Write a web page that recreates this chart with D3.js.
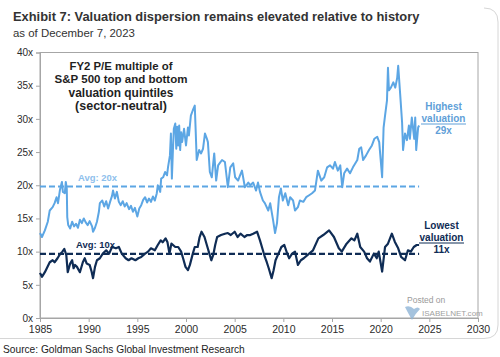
<!DOCTYPE html>
<html><head><meta charset="utf-8">
<script src="https://cdn.jsdelivr.net/npm/d3@7"></script>
<style>body{margin:0;background:#fff;}svg{display:block;font-family:"Liberation Sans",Arial,sans-serif;}</style>
</head><body>
<svg id="c" width="500" height="357"></svg>
<script>
const highYears = [1985.0,1985.2,1985.5,1985.8,1986.0,1986.3,1986.5,1986.7,1986.85,1987.05,1987.25,1987.35,1987.55,1987.65,1987.75,1987.8,1987.9,1988.1,1988.3,1988.5,1988.7,1988.9,1989.1,1989.3,1989.5,1989.7,1989.9,1990.1,1990.35,1990.45,1990.65,1990.85,1991.05,1991.15,1991.4,1991.6,1991.8,1992.0,1992.2,1992.4,1992.5,1992.7,1992.9,1993.1,1993.3,1993.5,1993.7,1993.9,1994.15,1994.35,1994.55,1994.75,1995.0,1995.2,1995.4,1995.6,1995.8,1996.0,1996.2,1996.4,1996.6,1996.8,1997.0,1997.1,1997.35,1997.45,1997.65,1997.85,1998.05,1998.15,1998.35,1998.45,1998.55,1998.65,1998.75,1998.9,1999.0,1999.1,1999.2,1999.3,1999.4,1999.5,1999.6,1999.8,2000.0,2000.2,2000.3,2000.5,2000.7,2000.9,2001.0,2001.1,2001.35,2001.55,2001.75,2001.95,2002.15,2002.25,2002.45,2002.65,2002.9,2003.1,2003.3,2003.5,2003.7,2004.0,2004.3,2004.55,2004.85,2005.05,2005.35,2005.55,2005.75,2006.05,2006.4,2006.6,2006.9,2007.2,2007.4,2007.6,2007.9,2008.1,2008.45,2008.65,2008.95,2009.15,2009.35,2009.55,2009.75,2009.95,2010.2,2010.5,2010.7,2011.0,2011.2,2011.5,2011.7,2012.05,2012.35,2012.65,2012.95,2013.25,2013.55,2013.9,2014.2,2014.5,2014.8,2015.1,2015.3,2015.6,2015.85,2016.05,2016.25,2016.55,2016.85,2017.15,2017.6,2017.8,2018.0,2018.2,2018.5,2018.8,2019.1,2019.35,2019.65,2019.85,2020.15,2020.3,2020.45,2020.65,2020.75,2020.85,2021.05,2021.3,2021.5,2021.7,2021.8,2022.0,2022.2,2022.3,2022.5,2022.7,2022.9,2023.0,2023.2,2023.45,2023.55,2023.65,2023.85,2023.95];
const highValues = [12.8,12.2,13.2,14.5,16.2,16.7,17.3,18.2,17.3,19.3,20.5,19.0,18.8,20.5,19.5,15.2,14.0,13.5,14.5,13.8,14.2,13.6,14.8,14.3,15.0,14.4,14.0,14.6,13.8,13.0,13.6,14.5,16.0,17.3,17.7,16.8,17.6,16.5,17.5,18.4,19.2,18.0,19.0,17.5,17.0,17.6,16.8,17.3,16.4,16.9,16.0,16.6,15.3,16.5,17.0,17.8,18.2,17.4,18.0,17.5,18.3,17.7,18.8,20.0,19.0,21.0,21.2,22.0,21.5,22.7,24.5,27.8,21.0,25.0,28.5,29.3,25.5,28.8,26.0,29.0,25.3,28.0,26.5,28.5,26.0,28.7,27.5,30.5,31.3,32.0,28.0,23.8,25.3,24.8,25.5,27.8,27.0,26.5,22.0,21.2,24.8,20.7,23.0,23.4,23.8,23.5,19.7,22.7,23.3,21.2,20.7,21.5,22.2,19.7,20.4,20.0,20.4,19.2,20.4,19.0,17.7,17.3,16.2,17.3,14.7,12.8,14.3,18.2,19.5,17.7,18.8,17.0,18.2,17.7,16.2,16.7,17.7,17.5,18.2,18.5,18.8,19.2,22.2,20.7,21.2,22.7,23.0,22.5,23.5,22.2,23.0,19.7,21.8,22.5,21.8,22.7,23.8,25.5,25.7,23.8,24.5,25.3,26.0,27.0,27.3,26.5,21.2,28.7,30.5,32.8,37.7,34.3,34.7,35.5,34.7,36.2,38.0,33.8,29.5,25.3,27.8,26.8,29.0,27.0,30.2,27.0,30.2,25.3,28.7,29.0];
const lowYears = [1985.0,1985.2,1985.5,1985.7,1986.0,1986.3,1986.5,1986.8,1987.0,1987.3,1987.5,1987.7,1987.85,1988.1,1988.3,1988.45,1988.6,1988.8,1989.1,1989.4,1989.6,1989.8,1990.1,1990.3,1990.45,1990.65,1990.85,1991.15,1991.45,1991.8,1992.1,1992.4,1992.8,1993.1,1993.4,1993.8,1994.1,1994.4,1994.8,1995.1,1995.4,1995.8,1996.1,1996.4,1996.8,1997.1,1997.4,1997.6,1997.9,1998.1,1998.3,1998.5,1998.9,1999.2,1999.5,1999.7,1999.95,2000.2,2000.4,2000.7,2000.9,2001.2,2001.4,2001.6,2001.9,2002.2,2002.4,2002.6,2002.8,2003.0,2003.2,2003.6,2004.0,2004.3,2004.6,2005.0,2005.3,2005.6,2006.0,2006.3,2006.6,2006.9,2007.3,2007.6,2007.9,2008.1,2008.3,2008.5,2008.8,2009.0,2009.2,2009.5,2009.8,2010.1,2010.4,2010.6,2010.9,2011.2,2011.5,2011.8,2012.1,2012.5,2013.05,2013.6,2014.1,2014.7,2015.2,2015.7,2016.0,2016.5,2017.0,2017.3,2017.6,2017.9,2018.3,2018.6,2018.9,2019.3,2019.6,2019.8,2020.15,2020.45,2020.75,2021.15,2021.45,2021.8,2022.1,2022.5,2022.8,2023.1,2023.4,2023.7,2023.95];
const lowValues = [6.8,6.2,6.9,7.5,8.4,8.7,8.4,9.0,9.5,10.0,10.4,9.5,6.9,8.2,8.7,7.5,8.0,7.7,6.9,8.4,9.0,8.2,8.0,7.0,6.0,7.7,8.7,9.0,9.7,10.2,9.7,10.7,10.5,10.7,9.7,9.0,8.7,9.0,8.7,9.0,9.2,9.7,10.0,10.5,10.2,11.0,11.7,11.4,12.0,11.4,9.7,11.2,10.7,10.7,10.0,9.0,7.7,7.2,8.0,9.7,10.7,10.7,12.2,13.0,12.2,10.7,9.7,8.7,9.5,11.0,12.2,12.5,12.7,12.8,12.5,13.0,12.2,12.7,12.2,12.5,12.5,12.7,13.0,11.7,10.2,9.2,8.4,7.5,6.0,7.2,8.7,9.7,10.7,11.0,9.7,9.0,9.7,10.0,8.0,8.7,9.0,9.5,10.2,12.0,12.5,13.2,12.2,10.5,10.0,11.2,12.0,11.7,12.7,10.7,10.0,9.0,8.5,9.7,9.0,10.0,7.0,10.7,11.2,12.7,11.5,10.5,9.2,8.7,10.2,10.0,10.7,11.0,11.0];
const highAvg = 19.8, lowAvg = 9.65;
const avgSpan = [1985, 2023.95];
const yTicks = [0,5,10,15,20,25,30,35,40];
const xTicks = [1985,1990,1995,2000,2005,2010,2015,2020,2025,2030];
const titleText = "Exhibit 7: Valuation dispersion remains elevated relative to history";
const subtitleText = "as of December 7, 2023";
const boxLines = ["FY2 P/E multiple of","S&P 500 top and bottom","valuation quintiles","(sector-neutral)"];
const highLabel = ["Highest","valuation","29x"];
const lowLabel = ["Lowest","valuation","11x"];
const sourceText = "Source: Goldman Sachs Global Investment Research";

const LIGHT = "#5ca6e4", NAVY = "#0f2c55", TXT = "#2b2b2b", GRID = "#a6a6a6";
const svg = d3.select("#c");
const x = d3.scaleLinear().domain([1985,2030]).range([40,478]);
const y = d3.scaleLinear().domain([0,40]).range([318,52.5]);

function fit(sel, w){ const n = sel.node(); const fs = parseFloat(sel.attr("font-size")); const m = n.getComputedTextLength(); sel.attr("font-size", fs*w/m); return sel; }

// card outline
svg.append("path").attr("d","M 484 8 Q 498 8 498 22 L 498 325 Q 498 338.5 484 338.5 L -5 338.5")
  .attr("fill","none").attr("stroke","#d6d6d6").attr("stroke-width",1);

// titles
fit(svg.append("text").attr("x",13).attr("y",20.5).attr("font-size",13).attr("font-weight","bold").attr("fill","#333").text(titleText),407);
fit(svg.append("text").attr("x",13).attr("y",36.5).attr("font-size",12).attr("fill","#333").text(subtitleText),122);

// frame
svg.append("rect").attr("x",40).attr("y",52.5).attr("width",438).attr("height",265.5).attr("fill","none").attr("stroke",GRID).attr("stroke-width",1);

// axes
const yAxis = svg.append("g").attr("transform","translate(40,0)")
  .call(d3.axisLeft(y).tickValues(yTicks).tickFormat(d=>d+"x").tickSize(4).tickPadding(3));
const xAxis = svg.append("g").attr("transform","translate(0,318)")
  .call(d3.axisBottom(x).tickValues(xTicks).tickFormat(d3.format("d")).tickSize(4).tickPadding(4));
[yAxis,xAxis].forEach(g=>{
  g.selectAll("path,line").attr("stroke",GRID);
  g.selectAll("text").attr("fill",TXT).attr("font-family","Liberation Sans, Arial, sans-serif");
});
yAxis.selectAll("text").attr("font-size",10);
xAxis.selectAll("text").attr("font-size",10.5);

// series
const line = d3.line().x(d=>x(d[0])).y(d=>y(d[1]));
svg.append("path").datum(highYears.map((t,i)=>[t,highValues[i]])).attr("d",line)
  .attr("fill","none").attr("stroke",LIGHT).attr("stroke-width",2).attr("stroke-linejoin","round");
svg.append("path").datum(lowYears.map((t,i)=>[t,lowValues[i]])).attr("d",line)
  .attr("fill","none").attr("stroke",NAVY).attr("stroke-width",2.2).attr("stroke-linejoin","round");

// averages
svg.append("path").datum(avgSpan.map(t=>[t,highAvg])).attr("d",line)
  .attr("stroke",LIGHT).attr("stroke-width",2).attr("stroke-dasharray","6,3").attr("fill","none");
svg.append("path").datum(avgSpan.map(t=>[t,lowAvg])).attr("d",line)
  .attr("stroke",NAVY).attr("stroke-width",2.2).attr("stroke-dasharray","6,3").attr("fill","none");

fit(svg.append("text").attr("x",78).attr("y",180.5).attr("font-size",10).attr("font-weight","bold").attr("fill","#8ec0ec").text("Avg: 20x"),39);
fit(svg.append("text").attr("x",76).attr("y",247.5).attr("font-size",10).attr("font-weight","bold").attr("fill",NAVY).text("Avg: 10x"),39);

// box annotation
const boxW = [103,133,105,92];
boxLines.forEach((s,i)=>{
  fit(svg.append("text").attr("x",121).attr("y",70+i*13.4).attr("text-anchor","middle")
    .attr("font-size",11.5).attr("font-weight","bold").attr("fill","#1f1f1f").text(s), boxW[i]);
});

// end labels
function endLabel(lines, cx, y0, color){
  lines.forEach((s,i)=>{
    svg.append("text").attr("x",cx).attr("y",y0+i*12).attr("text-anchor","middle")
      .attr("font-size",10).attr("font-weight","bold").attr("fill",color).text(s);
  });
  svg.append("line").attr("x1",cx-22.5).attr("x2",cx+22.5).attr("y1",y0+14).attr("y2",y0+14)
    .attr("stroke",color).attr("stroke-width",1);
}
endLabel(highLabel,443.5,110,"#5f9fd8");
endLabel(lowLabel,441.5,229,NAVY);

// watermark
svg.append("text").attr("x",407).attr("y",303).attr("font-size",8.5).attr("fill","#9a9a9a").text("Posted on");
svg.append("path").attr("d","M 405 307 Q 410 305 414 309 Q 418 306 420 309 Q 415 314 412 320 Q 408 313 405 307 Z")
  .attr("fill","#8fb4d6").attr("opacity",0.8);
fit(svg.append("text").attr("x",422).attr("y",316).attr("font-size",9.5).attr("fill","#a0a0a0").text("ISABELNET.com"),61);

// source
fit(svg.append("text").attr("x",3).attr("y",353).attr("font-size",11).attr("fill","#222").text(sourceText),242);
</script>
</body></html>
